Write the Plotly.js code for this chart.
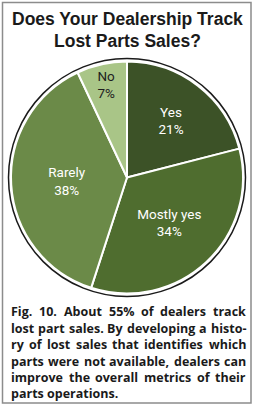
<!DOCTYPE html>
<html>
<head>
<meta charset="utf-8">
<script src="https://cdn.plot.ly/plotly-3.0.1.min.js"></script>
<style>
html,body{margin:0;padding:0;background:#fff;}
#chart{width:255px;height:406px;}
</style>
</head>
<body>
<div id="chart"></div>
<script>
// ---- data ----
const categories = ["Yes", "Mostly yes", "Rarely", "No"];
const shares = [21, 34, 38, 7];
const sliceColors = ["#3c5227", "#4f6d2f", "#6b8a48", "#a9c587"];
const labelColors = ["#ffffff", "#ffffff", "#ffffff", "#1e1e1e"];
const titleLines = ["Does Your Dealership Track", "Lost Parts Sales?"];
const captionLines = [
  "Fig. 10. About 55% of dealers track",
  "lost part sales. By developing a histo-",
  "ry of lost sales that identifies which",
  "parts were not available, dealers can",
  "improve the overall metrics of their",
  "parts operations."
];

// ---- layout helpers ----
const W = 255, H = 406;
const px = x => x / W;
const py = y => 1 - y / H;

const trace = {
  type: "pie",
  labels: categories,
  values: shares,
  sort: false,
  direction: "clockwise",
  rotation: 0,
  marker: { colors: sliceColors, line: { color: "#ffffff", width: 2 } },
  texttemplate: "%{label}<br>%{value}%",
  textposition: "inside",
  insidetextorientation: "horizontal",
  insidetextfont: { family: "Roboto, sans-serif", size: 13.5, color: labelColors },
  hoverinfo: "none",
  showlegend: false,
  domain: { x: [px(11), px(243)], y: [py(293.5), py(61.5)] }
};

const annotations = [];
const titleY = [19, 41];
titleLines.forEach((t, i) => {
  annotations.push({
    text: t, xref: "paper", yref: "paper", x: px(127), y: py(titleY[i]),
    xanchor: "center", yanchor: "middle", showarrow: false,
    font: { family: "Liberation Sans, Arial, sans-serif", size: 17.5, color: "#1a1a1a", weight: "bold" }
  });
});

// justified caption
const capFont = "Open Sans";
const canvas = document.createElement("canvas");
const ctx = canvas.getContext("2d");
const capLeft = 10, capRight = 245;
let capSize = 14;
function fits(size) {
  ctx.font = "bold " + size + "px '" + capFont + "'";
  return captionLines.slice(0, -1).every(line => {
    const words = line.split(" ");
    const total = words.reduce((a, w) => a + ctx.measureText(w).width, 0);
    return total + 0.28 * size * (words.length - 1) <= capRight - capLeft;
  });
}
while (capSize > 9 && !fits(capSize)) capSize -= 0.25;
ctx.font = "bold " + capSize + "px '" + capFont + "'";
const capY = [311, 328, 344, 361, 377, 393];
captionLines.forEach((line, i) => {
  const words = line.split(" ");
  const widths = words.map(w => ctx.measureText(w).width);
  const total = widths.reduce((a, b) => a + b, 0);
  const last = i === captionLines.length - 1;
  const gap = last ? ctx.measureText(" ").width : (capRight - capLeft - total) / (words.length - 1);
  let x = capLeft;
  words.forEach((w, k) => {
    annotations.push({
      text: w, xref: "paper", yref: "paper", x: px(x), y: py(capY[i]),
      xanchor: "left", yanchor: "middle", showarrow: false, borderpad: 0,
      font: { family: capFont + ", sans-serif", size: capSize, color: "#1a1a1a", weight: "bold" }
    });
    x += widths[k] + gap;
  });
});

const layout = {
  width: W, height: H,
  margin: { l: 0, r: 0, t: 0, b: 0 },
  paper_bgcolor: "#ffffff",
  showlegend: false,
  annotations: annotations,
  shapes: [
    { type: "rect", xref: "paper", yref: "paper", x0: px(2.5), x1: px(251), y0: py(403), y1: py(2.5),
      line: { color: "#8c8c8c", width: 1.5 }, fillcolor: "rgba(0,0,0,0)" },
    { type: "circle", xref: "paper", yref: "paper", x0: px(8.5), x1: px(245.5), y0: py(296.5), y1: py(58.5),
      line: { color: "#1a1a1a", width: 1.5 }, fillcolor: "rgba(0,0,0,0)" }
  ]
};

Plotly.newPlot("chart", [trace], layout, { displayModeBar: false, staticPlot: true });
</script>
</body>
</html>
